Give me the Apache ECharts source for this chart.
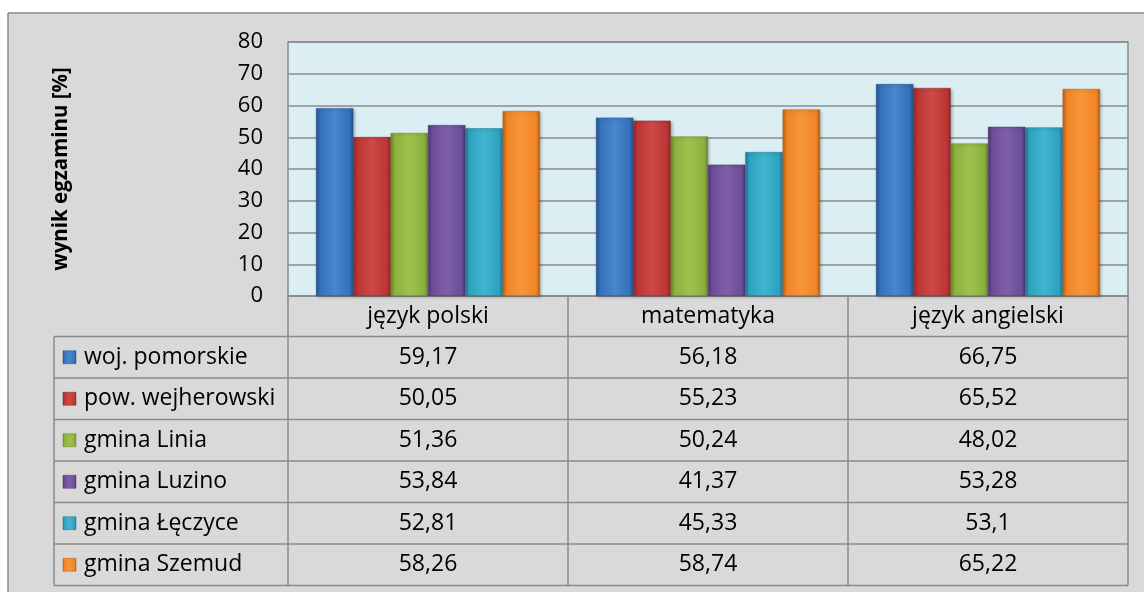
<!DOCTYPE html>
<html>
<head>
<meta charset="utf-8">
<script src="https://cdn.jsdelivr.net/npm/echarts@6/dist/echarts.min.js"></script>
<style>
  html, body { margin: 0; padding: 0; background: #fff; }
  #chart { width: 1144px; height: 592px; }
</style>
</head>
<body>
<div id="chart"></div>
<script>
// dane
var categories = ['język polski', 'matematyka', 'język angielski'];
var seriesNames = ['woj. pomorskie', 'pow. wejherowski', 'gmina Linia', 'gmina Luzino', 'gmina Łęczyce', 'gmina Szemud'];
var wojPomorskie = [59.17, 56.18, 66.75];
var powWejherowski = [50.05, 55.23, 65.52];
var gminaLinia = [51.36, 50.24, 48.02];
var gminaLuzino = [53.84, 41.37, 53.28];
var gminaLeczyce = [52.81, 45.33, 53.1];
var gminaSzemud = [58.26, 58.74, 65.22];
var yTicks = [0, 10, 20, 30, 40, 50, 60, 70, 80];

var allValues = [wojPomorskie, powWejherowski, gminaLinia, gminaLuzino, gminaLeczyce, gminaSzemud];

// kolory: [krawędź, środek, jasny]
var palette = [
  ['#22508c', '#3471bb', '#4a86cc'],
  ['#8c2626', '#bd3535', '#cc4a48'],
  ['#67862a', '#8daf3e', '#9fc14e'],
  ['#4c3370', '#6c4d98', '#7e60a8'],
  ['#1c7690', '#2ca2c0', '#42b4cf'],
  ['#b95b16', '#f08424', '#f7963a']
];

function barFill(c) {
  return new echarts.graphic.LinearGradient(0, 0, 1, 0, [
    { offset: 0, color: c[0] },
    { offset: 0.1, color: c[1] },
    { offset: 0.5, color: c[2] },
    { offset: 0.9, color: c[1] },
    { offset: 1, color: c[0] }
  ]);
}

var font = '"Open Sans", sans-serif';
var grid = { left: 288, top: 42, width: 840, height: 254 };
var colW = grid.width / categories.length;
var headerBottom = grid.top + grid.height + 40.5;
var rowH = 41.5;
var tableLeft = 54;
var tableRight = grid.left + grid.width;
var tableBottom = headerBottom + rowH * seriesNames.length;
var lineColor = '#8a8a8a';

var series = seriesNames.map(function (name, i) {
  return {
    name: name,
    type: 'bar',
    data: allValues[i],
    barGap: '0%',
    barCategoryGap: '20%',
    itemStyle: {
      color: barFill(palette[i]),
      borderColor: palette[i][0],
      borderWidth: 0.5,
      shadowColor: 'rgba(0,0,0,0.3)',
      shadowBlur: 3,
      shadowOffsetX: 1.5,
      shadowOffsetY: 1.5
    }
  };
});

// tabela danych pod wykresem
var graphics = [];
function line(x1, y1, x2, y2) {
  graphics.push({
    type: 'line',
    shape: { x1: x1, y1: y1, x2: x2, y2: y2 },
    style: { stroke: lineColor, lineWidth: 1.5 },
    silent: true
  });
}
// białe pole poza ramką
graphics.push({ type: 'rect', shape: { x: 0, y: 0, width: 1144, height: 13 }, style: { fill: '#fff' }, silent: true });
graphics.push({ type: 'rect', shape: { x: 0, y: 0, width: 8, height: 592 }, style: { fill: '#fff' }, silent: true });
line(8, 13, 1144, 13);
line(8, 13, 8, 592);

for (var c = 0; c <= categories.length; c++) {
  line(grid.left + c * colW, grid.top + grid.height, grid.left + c * colW, tableBottom);
}
line(tableLeft, headerBottom, tableLeft, tableBottom);
for (var r = 0; r <= seriesNames.length; r++) {
  line(tableLeft, headerBottom + r * rowH, tableRight, headerBottom + r * rowH);
}
seriesNames.forEach(function (name, i) {
  var cy = headerBottom + i * rowH + rowH / 2;
  graphics.push({
    type: 'rect',
    shape: { x: 63, y: cy - 6.5, width: 13, height: 13 },
    style: { fill: barFill(palette[i]), stroke: palette[i][0], lineWidth: 0.5 },
    silent: true
  });
  graphics.push({
    type: 'text',
    x: 84, y: cy,
    style: { text: name, font: '23px ' + font, fill: '#000', textVerticalAlign: 'middle' },
    silent: true
  });
  allValues[i].forEach(function (v, j) {
    graphics.push({
      type: 'text',
      x: grid.left + j * colW + colW / 2, y: cy,
      style: {
        text: String(v).replace('.', ','),
        font: '23px ' + font, fill: '#000',
        textAlign: 'center', textVerticalAlign: 'middle'
      },
      silent: true
    });
  });
});

var chart = echarts.init(document.getElementById('chart'));
chart.setOption({
  animation: false,
  backgroundColor: '#d9d9d9',
  textStyle: { fontFamily: font },
  grid: {
    left: grid.left, top: grid.top, width: grid.width, height: grid.height,
    show: true, backgroundColor: '#dbeef4', borderColor: lineColor, borderWidth: 1.5,
    containLabel: false
  },
  xAxis: {
    type: 'category',
    data: categories,
    axisLine: { show: true, lineStyle: { color: lineColor, width: 1.5 } },
    axisTick: { show: false },
    axisLabel: { fontSize: 23, color: '#000', margin: 20, verticalAlign: 'middle' }
  },
  yAxis: {
    type: 'value',
    min: yTicks[0],
    max: yTicks[yTicks.length - 1],
    interval: yTicks[1] - yTicks[0],
    name: 'wynik egzaminu [%]',
    nameLocation: 'middle',
    nameRotate: 90,
    nameGap: 216,
    nameTextStyle: { fontSize: 20.5, fontWeight: 'bold', color: '#000' },
    axisLine: { show: false },
    axisTick: { show: false },
    axisLabel: { fontSize: 22, color: '#000', margin: 25 },
    splitLine: { lineStyle: { color: lineColor, width: 1.5 } }
  },
  series: series,
  graphic: graphics
});
</script>
</body>
</html>
